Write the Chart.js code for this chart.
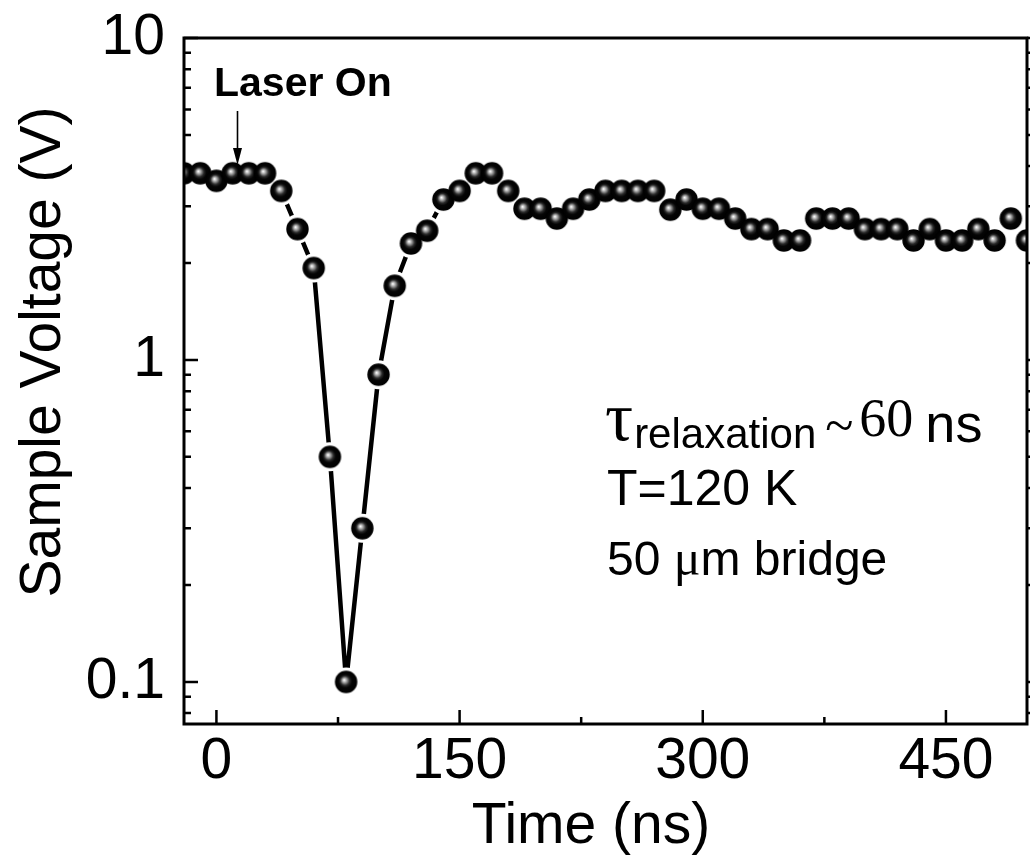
<!DOCTYPE html>
<html>
<head>
<meta charset="utf-8">
<script src="https://cdn.jsdelivr.net/npm/chart.js@4.4.1/dist/chart.umd.min.js"></script>
<style>
  body { margin: 0; background: #fff; }
  #box { width: 1030px; height: 867px; }
</style>
</head>
<body>
<div id="box"><canvas id="grafico" width="1030" height="867"></canvas></div>
<script>
// tempo (ns) e tensão na amostra (V)
const tempoNs = [
    -20, -10, 0, 10, 20, 30, 40, 50, 60, 70,
    80, 90, 100, 110, 120, 130, 140, 150, 160, 170,
    180, 190, 200, 210, 220, 230, 240, 250, 260, 270,
    280, 290, 300, 310, 320, 330, 340, 350, 360, 370,
    380, 390, 400, 410, 420, 430, 440, 450, 460, 470,
    480, 490, 500
];
const tensaoV = [
    3.8, 3.8, 3.6, 3.8, 3.8, 3.8, 3.35, 2.55, 1.93, 0.5,
    0.1, 0.3, 0.9, 1.7, 2.3, 2.52, 3.15, 3.35, 3.8, 3.8,
    3.35, 2.95, 2.95, 2.75, 2.95, 3.15, 3.35, 3.35, 3.35, 3.35,
    2.93, 3.15, 2.95, 2.95, 2.75, 2.55, 2.55, 2.35, 2.35, 2.75,
    2.75, 2.75, 2.55, 2.55, 2.55, 2.35, 2.55, 2.35, 2.35, 2.55,
    2.35, 2.75, 2.35
];

const ticksX = [0, 150, 300, 450];
const ticksXMenores = [75, 225, 375];
const ticksY = [0.1, 1, 10];
const ticksYMenores = [0.08, 0.09, 0.2, 0.3, 0.4, 0.5, 0.6, 0.7, 0.8, 0.9,
    2, 3, 4, 5, 6, 7, 8, 9];

const SANS = '"Liberation Sans", Arial, sans-serif';
const SERIF = '"Liberation Serif", "Times New Roman", serif';

const pontos = tempoNs.map((t, i) => ({ x: t, y: tensaoV[i] }));

// bolinha "3D" usada como marcador
function criarBolinha(r) {
    const c = document.createElement('canvas');
    const s = Math.ceil(r * 2) + 2;
    c.width = s;
    c.height = s;
    const g = c.getContext('2d');
    const cx = s / 2, cy = s / 2;
    const grad = g.createRadialGradient(cx - r * 0.18, cy - r * 0.18, 0, cx, cy, r);
    grad.addColorStop(0, '#ffffff');
    grad.addColorStop(0.1, '#d8d8d8');
    grad.addColorStop(0.26, '#858585');
    grad.addColorStop(0.42, '#2a2a2a');
    grad.addColorStop(0.6, '#050505');
    grad.addColorStop(1, '#000000');
    g.fillStyle = grad;
    g.beginPath();
    g.arc(cx, cy, r, 0, Math.PI * 2);
    g.fill();
    return c;
}

// tira o espaço extra que as escalas reservam para os rótulos
function semFolga(s) {
    s.paddingTop = 0;
    s.paddingBottom = 0;
    s.paddingLeft = 0;
    s.paddingRight = 0;
}

// abre um espaço branco na linha em volta de cada ponto
const vaoNaLinha = {
    id: 'vaoNaLinha',
    afterDatasetDraw(chart, args) {
        if (args.index !== 0) return;
        const ctx = chart.ctx;
        const area = chart.chartArea;
        ctx.save();
        ctx.beginPath();
        ctx.rect(area.left, area.top, area.right - area.left, area.bottom - area.top);
        ctx.clip();
        ctx.fillStyle = '#ffffff';
        args.meta.data.forEach(p => {
            ctx.beginPath();
            ctx.arc(p.x, p.y, 14.5, 0, Math.PI * 2);
            ctx.fill();
        });
        ctx.restore();
    }
};

// moldura, marcas dos eixos, títulos e anotações
const molduraETextos = {
    id: 'molduraETextos',
    afterDraw(chart) {
        const ctx = chart.ctx;
        const a = chart.chartArea;
        const sx = chart.scales.x;
        const sy = chart.scales.y;
        ctx.save();
        ctx.strokeStyle = '#000';
        ctx.fillStyle = '#000';
        ctx.lineWidth = 3;
        ctx.strokeRect(a.left, a.top, a.right - a.left, a.bottom - a.top);

        ctx.lineWidth = 2.5;
        ctx.beginPath();
        const marcaX = (v, len) => {
            const px = sx.getPixelForValue(v);
            ctx.moveTo(px, a.bottom);
            ctx.lineTo(px, a.bottom - len);
        };
        const marcaY = (v, len) => {
            const py = sy.getPixelForValue(v);
            ctx.moveTo(a.left, py);
            ctx.lineTo(a.left + len, py);
            ctx.moveTo(a.right, py);
            ctx.lineTo(a.right + len, py);
        };
        ticksX.forEach(v => marcaX(v, 14));
        ticksXMenores.forEach(v => marcaX(v, 7));
        ticksY.forEach(v => marcaY(v, 14));
        ticksYMenores.forEach(v => marcaY(v, 7));
        ctx.stroke();

        // títulos dos eixos
        ctx.font = '57px ' + SANS;
        ctx.textAlign = 'center';
        ctx.textBaseline = 'alphabetic';
        ctx.fillText('Time (ns)', 591, 843);
        ctx.save();
        ctx.translate(60, 352);
        ctx.rotate(-Math.PI / 2);
        ctx.fillText('Sample Voltage (V)', 0, 0);
        ctx.restore();

        // Laser On + seta
        ctx.textAlign = 'left';
        ctx.font = 'bold 41px ' + SANS;
        ctx.fillText('Laser On', 214, 96);
        const xs = sx.getPixelForValue(13);
        ctx.lineWidth = 1.6;
        ctx.beginPath();
        ctx.moveTo(xs, 111);
        ctx.lineTo(xs, 152);
        ctx.stroke();
        ctx.beginPath();
        ctx.moveTo(xs - 4.5, 148);
        ctx.lineTo(xs + 4.5, 148);
        ctx.lineTo(xs, 165);
        ctx.closePath();
        ctx.fill();

        // bloco de texto
        const escreve = (txt, fonte, x, y) => {
            ctx.font = fonte;
            ctx.fillText(txt, x, y);
            return x + ctx.measureText(txt).width;
        };
        let x = 605;
        x = escreve('\u03C4', '70px ' + SERIF, x, 440);
        x = escreve('relaxation', '42px ' + SANS, x + 1, 448);
        x = escreve('~', '52px ' + SERIF, x + 9, 443);
        x = escreve('60', '54px ' + SERIF, x + 6, 436);
        escreve('ns', '54px ' + SANS, x + 12, 442);

        escreve('T=120 K', '50px ' + SANS, 607, 505);

        x = escreve('50 ', '48px ' + SANS, 607, 575);
        x = escreve('\u03BC', '50px ' + SERIF, x, 575);
        escreve('m bridge', '48px ' + SANS, x, 575);
        ctx.restore();
    }
};

new Chart(document.getElementById('grafico'), {
    type: 'scatter',
    data: {
        datasets: [{
            label: 'linha',
            data: pontos,
            showLine: true,
            borderColor: '#000',
            borderWidth: 4.5,
            pointRadius: 0,
            tension: 0,
            clip: 0,
            order: 2
        }, {
            label: 'pontos',
            data: pontos,
            showLine: false,
            pointStyle: criarBolinha(11.2),
            pointRadius: 11,
            clip: 0,
            order: 1
        }]
    },
    plugins: [vaoNaLinha, molduraETextos],
    options: {
        responsive: false,
        animation: false,
        layout: {
            autoPadding: false,
            padding: { top: 38, right: 3, left: 0, bottom: 0 }
        },
        plugins: {
            legend: { display: false },
            tooltip: { enabled: false }
        },
        scales: {
            x: {
                type: 'linear',
                min: -20,
                max: 500,
                grid: { display: false, drawTicks: false },
                border: { display: false },
                afterBuildTicks: s => { s.ticks = ticksX.map(v => ({ value: v })); },
                afterFit: s => { s.height = 143; semFolga(s); },
                ticks: {
                    autoSkip: false,
                    maxRotation: 0,
                    padding: 4,
                    color: '#000',
                    font: { family: SANS, size: 57 },
                    callback: v => String(v)
                }
            },
            y: {
                type: 'logarithmic',
                min: 0.074,
                max: 10,
                grid: { display: false, drawTicks: false },
                border: { display: false },
                afterBuildTicks: s => { s.ticks = ticksY.map(v => ({ value: v })); },
                afterFit: s => { s.width = 184; semFolga(s); },
                ticks: {
                    autoSkip: false,
                    padding: 19,
                    color: '#000',
                    font: { family: SANS, size: 57 },
                    callback: v => String(v)
                }
            }
        }
    }
});
</script>
</body>
</html>
